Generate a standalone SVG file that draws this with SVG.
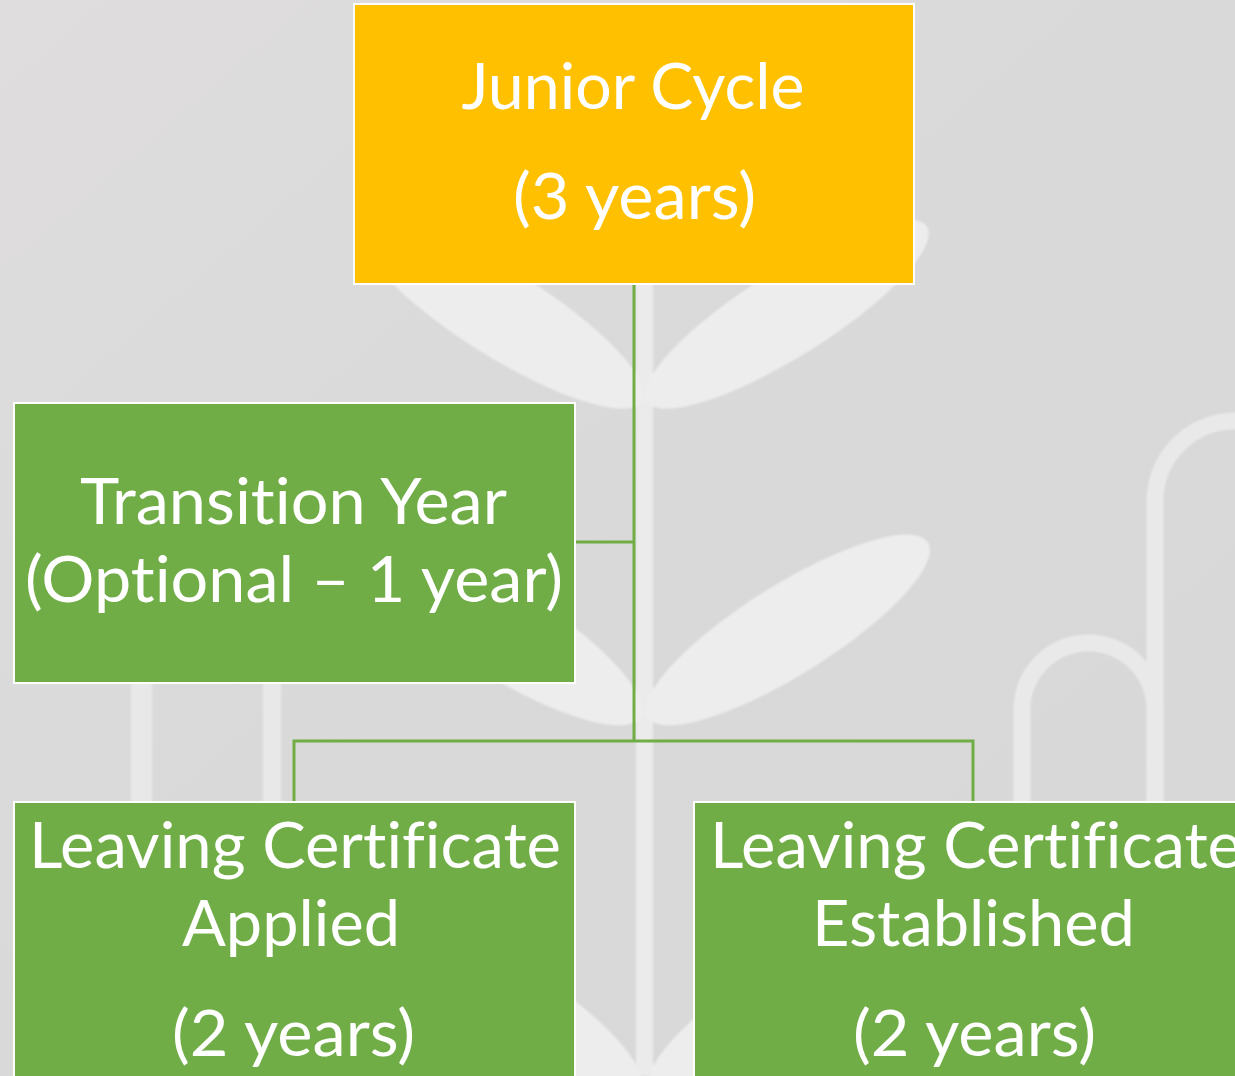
<svg xmlns="http://www.w3.org/2000/svg" width="1235" height="1076" viewBox="0 0 1235 1076">
  <defs>
    <linearGradient id="bg" x1="0" y1="0" x2="1" y2="1">
      <stop offset="0" stop-color="#dfdddd"/>
      <stop offset="0.5" stop-color="#d9d9d9"/>
      <stop offset="1" stop-color="#d8d8d8"/>
    </linearGradient>
    <filter id="soft" x="-5%" y="-5%" width="110%" height="110%">
      <feGaussianBlur stdDeviation="1.2"/>
    </filter>
  </defs>
  <style>
    .leaf { fill: #ededed; }
    .pipe { fill: none; stroke: #e9e9e9; stroke-width: 17; }
    .node-y { fill: #ffc000; stroke: #ffffff; stroke-width: 2; }
    .node-g { fill: #70ad47; stroke: #ffffff; stroke-width: 2; }
    .lbl { fill: #ffffff; font-family: Lato, "Liberation Sans", sans-serif; font-size: 64px; text-anchor: middle; font-variant-ligatures: none; font-feature-settings: "liga" 0, "clig" 0; }
    .conn { fill: none; stroke: #70ad47; stroke-width: 3; }
  </style>

  <!-- background -->
  <rect x="0" y="0" width="1235" height="1076" fill="url(#bg)"/>
  <g id="backdrop" filter="url(#soft)">
    <rect x="636" y="200" width="17" height="876" fill="#ebebeb"/>
    <ellipse class="leaf" cx="787" cy="314" rx="165" ry="43" transform="rotate(-32 787 314)"/>
    <ellipse class="leaf" cx="502" cy="314" rx="165" ry="43" transform="rotate(32 502 314)"/>
    <ellipse class="leaf" cx="788" cy="630" rx="165" ry="45" transform="rotate(-32 788 630)"/>
    <ellipse class="leaf" cx="500" cy="630" rx="165" ry="45" transform="rotate(32 500 630)"/>
    <ellipse class="leaf" cx="500" cy="1003" rx="165" ry="45" transform="rotate(32 500 1003)"/>
    <ellipse class="leaf" cx="790" cy="1003" rx="165" ry="45" transform="rotate(-32 790 1003)"/>
    <path class="pipe" d="M1155 1076 V501 A80 80 0 0 1 1235 421 H1260"/>
    <path class="pipe" d="M1022 1076 V709.5 A66.5 66.5 0 0 1 1155 709.5 V1076"/>
    <rect x="131" y="640" width="21" height="180" fill="#e8e8e8"/>
    <rect x="263" y="640" width="18" height="180" fill="#e8e8e8"/>
  </g>

  <!-- connectors -->
  <g id="connectors">
    <path class="conn" d="M634 284 V741"/>
    <path class="conn" d="M576 542 H634"/>
    <path class="conn" d="M294 802 V741 H973 V802"/>
  </g>

  <g id="junior-cycle">
    <rect class="node-y" x="354" y="4" width="560" height="280"/>
    <text class="lbl" x="633" y="109" textLength="343" lengthAdjust="spacingAndGlyphs">Junior Cycle</text>
    <text class="lbl" x="634.5" y="219" textLength="243" lengthAdjust="spacingAndGlyphs">(3 years)</text>
  </g>

  <g id="transition-year">
    <rect class="node-g" x="14" y="403" width="561" height="280"/>
    <text class="lbl" x="293.5" y="524" textLength="427" lengthAdjust="spacingAndGlyphs">Transition Year</text>
    <text class="lbl" x="294" y="602" textLength="538" lengthAdjust="spacingAndGlyphs">(Optional – 1 year)</text>
  </g>

  <g id="lc-applied">
    <rect class="node-g" x="14" y="802" width="561" height="300"/>
    <text class="lbl" x="295" y="868" textLength="532" lengthAdjust="spacingAndGlyphs">Leaving Certificate</text>
    <text class="lbl" x="291" y="946" textLength="218" lengthAdjust="spacingAndGlyphs">Applied</text>
    <text class="lbl" x="293.5" y="1056" textLength="243" lengthAdjust="spacingAndGlyphs">(2 years)</text>
  </g>

  <g id="lc-established">
    <rect class="node-g" x="694" y="802" width="561" height="300"/>
    <text class="lbl" x="976" y="868" textLength="532" lengthAdjust="spacingAndGlyphs">Leaving Certificate</text>
    <text class="lbl" x="973.5" y="946" textLength="323" lengthAdjust="spacingAndGlyphs">Established</text>
    <text class="lbl" x="974.5" y="1056" textLength="243" lengthAdjust="spacingAndGlyphs">(2 years)</text>
  </g>
</svg>
